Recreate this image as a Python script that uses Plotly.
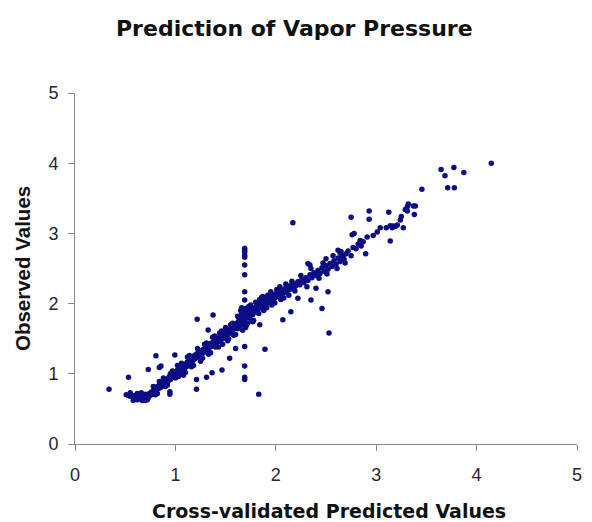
import plotly.graph_objects as go

# ---- data (predicted, observed) ----
band_a = [(0.51,0.70),(0.53,0.69),(0.55,0.68),(0.56,0.70),(0.58,0.67),(0.59,0.65),(0.60,0.69),(0.61,0.66),
          (0.62,0.63),(0.63,0.67),(0.64,0.64),(0.65,0.70),(0.66,0.66),(0.67,0.62),(0.68,0.68),(0.69,0.65),
          (0.70,0.71),(0.71,0.67),(0.72,0.70),(0.73,0.66),(0.74,0.72),(0.75,0.69),(0.76,0.74),(0.77,0.71),
          (0.62,0.72),(0.70,0.62)]
band_b = [(0.78,0.76),(0.79,0.72),(0.80,0.78),(0.81,0.75),(0.82,0.82),(0.83,0.79),(0.84,0.84),(0.85,0.80),
          (0.86,0.86),(0.87,0.83),(0.88,0.88),(0.89,0.85),(0.90,0.91),(0.91,0.87),(0.92,0.93),(0.93,0.90),
          (0.94,0.96),(0.95,0.92),(0.96,0.98),(0.97,0.95),(0.98,1.00),(0.99,0.97),(1.00,1.03),(1.01,0.99),
          (1.02,1.05),(1.03,1.01),(1.04,1.07),(1.05,1.03),(0.78,0.82),(0.82,0.72),(0.88,0.94),(0.92,0.84),
          (0.97,1.04),(1.00,0.94)]
band_c = [(1.06,1.09),(1.07,1.05),(1.08,1.12),(1.09,1.08),(1.10,1.14),(1.11,1.10),(1.12,1.17),(1.13,1.13),
          (1.14,1.19),(1.15,1.15),(1.16,1.22),(1.17,1.18),(1.18,1.25),(1.19,1.21),(1.20,1.27),(1.21,1.23),
          (1.22,1.29),(1.23,1.25),(1.24,1.31),(1.25,1.27),(1.26,1.33),(1.27,1.29),(1.28,1.35),(1.29,1.31),
          (1.30,1.37),(1.31,1.34),(1.32,1.40),(1.33,1.36),(1.34,1.42),(1.35,1.38),(1.36,1.44),(1.37,1.40),
          (1.38,1.46),(1.39,1.42),(1.40,1.48),(1.02,1.12),(1.08,0.98),(1.12,1.24),(1.16,1.10),(1.22,1.36),
          (1.25,1.18),(1.29,1.42),(1.33,1.28),(1.37,1.52),(1.40,1.38)]
band_d = [(1.41,1.44),(1.42,1.50),(1.43,1.46),(1.44,1.52),(1.45,1.48),(1.46,1.54),(1.47,1.50),(1.48,1.57),
          (1.49,1.53),(1.50,1.59),(1.51,1.55),(1.52,1.61),(1.53,1.57),(1.54,1.63),(1.55,1.60),(1.56,1.66),
          (1.57,1.62),(1.58,1.68),(1.59,1.64),(1.60,1.71),(1.61,1.66),(1.62,1.73),(1.63,1.69),(1.64,1.76),
          (1.65,1.72),(1.66,1.80),(1.67,1.74),(1.68,1.84),(1.69,1.77),(1.70,1.88),(1.71,1.80),(1.72,1.92),
          (1.73,1.83),(1.74,1.79),(1.75,1.86),(1.76,1.90),(1.77,1.84),(1.78,1.93),(1.79,1.88),(1.80,1.95),
          (1.62,1.82),(1.65,1.90),(1.68,1.70),(1.70,1.66),(1.72,1.72),(1.74,1.95),(1.66,1.86),(1.69,1.93),
          (1.64,1.66),(1.44,1.58),(1.47,1.42),(1.50,1.66),(1.53,1.50),(1.57,1.72),(1.60,1.56),(1.63,1.80),
          (1.67,1.62),(1.75,1.98),(1.78,1.76),(1.84,1.70)]
band_e = [(1.81,1.91),(1.82,1.97),(1.83,1.93),(1.84,1.99),(1.85,1.95),(1.86,2.01),(1.87,1.96),(1.88,2.03),
          (1.89,1.98),(1.90,2.05),(1.91,2.00),(1.92,2.07),(1.93,2.02),(1.94,2.09),(1.95,2.04),(1.96,2.11),
          (1.97,2.06),(1.98,2.13),(1.99,2.08),(2.00,2.14),(2.02,2.10),(2.03,2.17),(2.05,2.13),(2.06,2.19),
          (2.08,2.15),(2.09,2.21),(2.11,2.17),(2.12,2.24),(2.14,2.20),(2.15,2.26),(2.17,2.22),(2.18,2.28),
          (2.20,2.25),(1.84,2.06),(1.88,1.90),(1.92,2.12),(1.96,1.98),(2.01,2.20),(2.05,2.06),(2.10,2.28),
          (2.13,2.12)]
band_f = [(2.22,2.31),(2.24,2.27),(2.26,2.34),(2.28,2.30),(2.30,2.37),(2.32,2.33),(2.34,2.41),(2.36,2.37),
          (2.38,2.44),(2.40,2.40),(2.42,2.47),(2.44,2.43),(2.46,2.51),(2.48,2.46),(2.50,2.54),(2.52,2.49),
          (2.54,2.57),(2.56,2.53),(2.58,2.61),(2.60,2.56),(2.62,2.65),(2.64,2.60),(2.66,2.68),(2.68,2.63),
          (2.70,2.71),(2.25,2.40),(2.31,2.24),(2.35,2.50),(2.43,2.36),(2.47,2.58),(2.51,2.42),(2.57,2.68),
          (2.61,2.50),(2.65,2.74),(2.69,2.58),(2.32,2.57),(2.34,2.55),(2.50,2.64),(2.55,2.57),(2.62,2.76),
          (2.64,2.72),(2.67,2.67)]
band_extra = [(0.55,0.73),(0.58,0.62),(0.66,0.73),(0.72,0.63),(0.80,0.70),(0.84,0.89),(0.90,0.82),
              (0.95,1.00),(1.03,0.96),(1.06,1.15),(1.10,1.02),(1.14,1.26),(1.18,1.12),(1.23,1.33),
              (1.27,1.22),(1.31,1.44),(1.35,1.30),(1.39,1.54),(1.43,1.38),(1.46,1.61),(1.52,1.47),
              (1.55,1.70),(1.58,1.55),(1.62,1.64),(1.66,1.94),(1.71,1.70),(1.73,1.96),(1.77,1.74),
              (1.80,2.02),(1.83,1.86),(1.87,2.10),(1.91,1.94),(1.95,2.17),(1.99,2.01),(2.04,2.24),
              (2.08,2.08),(2.16,2.32),(2.19,2.18)]
upper = [(2.72,2.75),(2.75,2.68),(2.77,2.80),(2.80,2.78),(2.82,2.85),(2.85,2.82),(2.87,2.88),(2.76,2.98),
         (2.78,3.00),(2.91,2.95),(2.895,2.71),(2.75,3.23),(2.93,3.32),(2.93,3.20),(3.01,3.02),(3.04,3.08),
         (3.125,3.30),(3.14,3.11),(3.19,3.10),(3.14,2.89),(3.25,3.24),(3.27,3.08),(3.31,3.38),(3.31,3.32),
         (3.37,3.39),(3.38,3.27),(3.10,3.08),(3.16,3.08),(3.21,3.12),(3.24,3.19),(3.29,3.34),(3.32,3.42),
         (3.39,3.39),(3.17,3.105),(2.97,2.97),(2.84,2.90)]
top = [(3.455,3.63),(3.646,3.91),(3.685,3.82),(3.774,3.94),(3.873,3.866),(3.712,3.65),(3.778,3.65),(4.146,4.00)]
column = [(1.69,2.79),(1.69,2.76),(1.69,2.73),(1.69,2.69),(1.69,2.66),(1.69,2.55),(1.69,2.41),(1.69,2.17),
          (1.69,2.05),(1.69,1.39),(1.69,1.11),(1.69,0.95),(1.69,0.92)]
outliers = [(0.339,0.779),(0.533,0.95),(0.73,1.06),(0.806,1.258),(0.994,1.268),(0.856,1.11),(0.84,1.09),
            (0.945,0.745),(0.945,0.71),(1.21,0.92),(1.21,0.78),(1.31,0.95),(1.217,1.776),(1.375,1.838),
            (1.326,1.624),(1.60,1.36),(1.54,1.22),(1.464,1.054),(1.365,1.016),(1.892,1.349),(1.83,0.71),
            (2.53,1.58),(2.46,1.93),(2.17,3.15),(2.07,1.77),(2.15,1.885),(2.52,2.17),(2.40,2.22),(2.35,2.05),
            (2.22,2.075),(1.876,2.075),(1.86,2.09)]

x_ticks = [0, 1, 2, 3, 4, 5]
y_ticks = [0, 1, 2, 3, 4, 5]

groups = [band_a, band_b, band_c, band_d, band_e, band_f, band_extra, upper, top, column, outliers]
predicted = [p[0] for g in groups for p in g]
observed = [p[1] for g in groups for p in g]

fig = go.Figure(go.Scatter(
    x=predicted, y=observed, mode="markers",
    marker=dict(size=5.5, color="#0c0c84", line=dict(width=0)),
    hoverinfo="x+y", showlegend=False,
))

axis_common = dict(
    range=[0, 5], showgrid=False, zeroline=False,
    showline=True, linecolor="#8a8a8a", linewidth=1,
    ticks="outside", ticklen=6, tickcolor="#8a8a8a", tickwidth=1,
    tickfont=dict(family="Liberation Sans, Arial", size=18, color="#262626"),
    fixedrange=True,
)
fig.update_xaxes(tickvals=x_ticks, ticklabelstandoff=8, **axis_common)
fig.update_yaxes(tickvals=y_ticks, ticklabelstandoff=6, **axis_common)

title_font = dict(family="DejaVu Sans", size=22, color="#111111")
fig.update_layout(
    width=592, height=522, autosize=False,
    margin=dict(l=75, r=10, t=93, b=78),
    paper_bgcolor="white", plot_bgcolor="white",
    annotations=[
        dict(text="<b>Prediction of Vapor Pressure</b>", xref="paper", yref="paper",
             x=0.437, y=1.185, xanchor="center", yanchor="middle", showarrow=False,
             font=title_font),
        dict(text="<b>Cross-validated Predicted Values</b>", xref="paper", yref="paper",
             x=0.505, y=-0.19, xanchor="center", yanchor="middle", showarrow=False,
             font=dict(family="DejaVu Sans", size=19, color="#111111")),
        dict(text="<b>Observed Values</b>", xref="paper", yref="paper",
             x=-0.1045, y=0.50, xanchor="center", yanchor="middle", showarrow=False,
             textangle=-90,
             font=dict(family="Liberation Sans, Arial", size=20.5, color="#111111")),
    ],
)

fig.write_html(
    "out.html",
    config={"displayModeBar": False},
    post_script="document.body.style.margin='0';document.body.style.overflow='hidden';",
)
